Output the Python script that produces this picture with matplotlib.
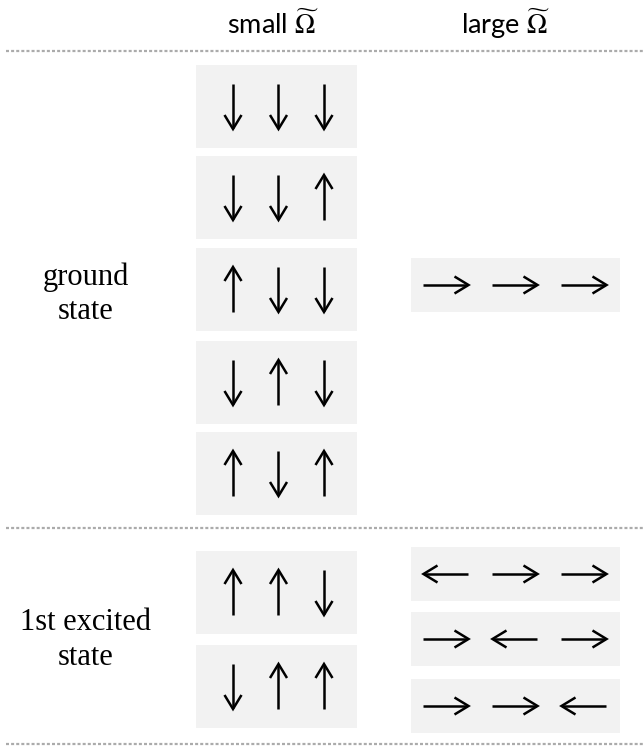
import matplotlib
matplotlib.use("Agg")
import matplotlib.pyplot as plt
from matplotlib.patches import Rectangle

# ---- data ----
column_headers = ["small", "large"]
row_labels = ["ground\nstate", "1st excited\nstate"]
# spins: +1 = up / right, -1 = down / left
small_ground = [[-1, -1, -1], [-1, -1, 1], [1, -1, -1], [-1, 1, -1], [1, -1, 1]]
large_ground = [[1, 1, 1]]
small_excited = [[1, 1, -1], [-1, 1, 1]]
large_excited = [[-1, 1, 1], [1, -1, 1], [1, 1, -1]]

# ---- layout (pixel coordinates) ----
W, H = 644, 747
fig = plt.figure(figsize=(W / 100, H / 100), dpi=100)
ax = fig.add_axes([0, 0, 1, 1])
ax.set_xlim(0, W)
ax.set_ylim(H, 0)
ax.axis("off")

BOX = "#f2f2f2"
LW = 1.8
ARR_LEN = 45
HEAD_L = 14
HEAD_W = 8.5

def vert_arrow(xc, yc, s):
    tip = yc - s * ARR_LEN / 2
    tail = yc + s * ARR_LEN / 2
    ax.plot([xc, xc], [tail, tip + s * 1.0], color="black", lw=LW, solid_capstyle="butt")
    ax.plot([xc - HEAD_W, xc, xc + HEAD_W], [tip + s * HEAD_L, tip, tip + s * HEAD_L],
            color="black", lw=LW, solid_joinstyle="miter", solid_capstyle="butt")

def horiz_arrow(xc, yc, s):
    tip = xc + s * ARR_LEN / 2
    tail = xc - s * ARR_LEN / 2
    ax.plot([tail, tip - s * 1.0], [yc, yc], color="black", lw=LW, solid_capstyle="butt")
    ax.plot([tip - s * HEAD_L, tip, tip - s * HEAD_L], [yc - HEAD_W, yc, yc + HEAD_W],
            color="black", lw=LW, solid_joinstyle="miter", solid_capstyle="butt")

def small_box(y0, spins):
    x0, x1, h = 196, 357, 83
    ax.add_patch(Rectangle((x0, y0), x1 - x0, h, facecolor=BOX, edgecolor="none"))
    for xc, s in zip([233, 278.5, 324], spins):
        vert_arrow(xc, y0 + h / 2, s)

def large_box(y0, spins):
    x0, x1, h = 411, 620, 54
    ax.add_patch(Rectangle((x0, y0), x1 - x0, h, facecolor=BOX, edgecolor="none"))
    for xc, s in zip([446, 515, 584], spins):
        horiz_arrow(xc, y0 + h / 2, s)

# ground state
for y0, sp in zip([65, 156, 248, 341, 432], small_ground):
    small_box(y0, sp)
for y0, sp in zip([258], large_ground):
    large_box(y0, sp)
# excited state
for y0, sp in zip([551, 645], small_excited):
    small_box(y0, sp)
for y0, sp in zip([547, 612, 679], large_excited):
    large_box(y0, sp)

# dotted separators
for yl in [51, 528, 744]:
    ax.plot([6, W], [yl, yl], color="#ababab", lw=1.6,
            linestyle=(0, (1.35, 0.95)), solid_capstyle="butt")

# headers
plt.rcParams["mathtext.fontset"] = "stix"
for xc, name in zip([273, 506], column_headers):
    ax.text(xc, 34, name + r" $\widetilde{\Omega}$", ha="center", va="baseline",
            fontsize=19.5, family="Lato")

# row labels
for yc, lab in zip([294, 640], row_labels):
    ax.text(86, yc, lab, ha="center", va="center", fontsize=22,
            family="Liberation Serif", linespacing=1.25)

fig.savefig("out.png", dpi=100)
